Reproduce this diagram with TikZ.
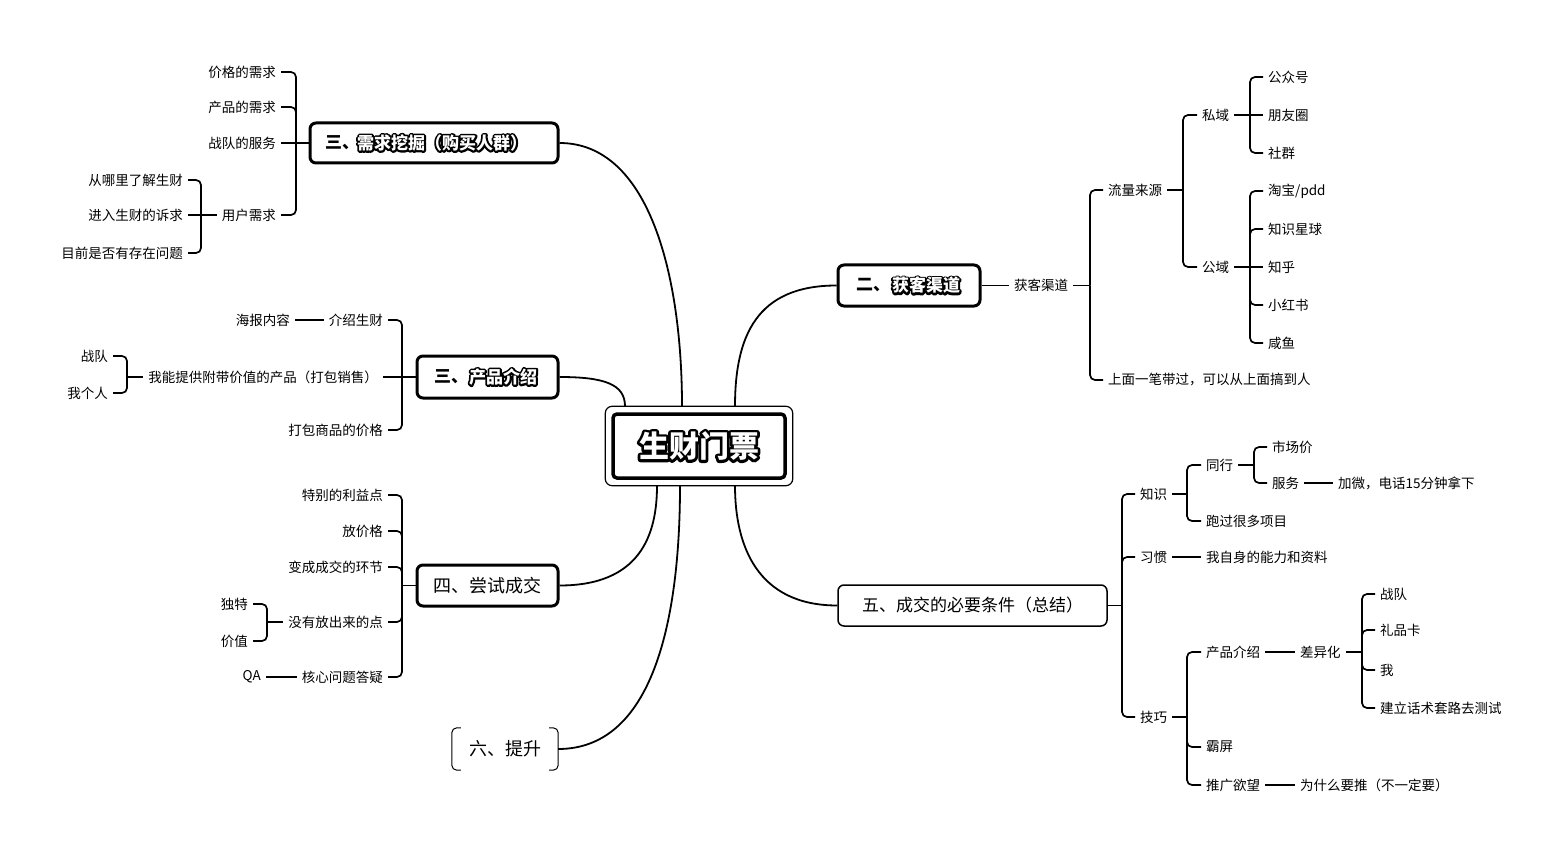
\documentclass[tikz,border=0pt]{standalone}
\usepackage{fontspec}
\setmainfont{Noto Sans CJK SC}
% white text with a black outline: a stroked black copy under a white copy
\newcommand\olt[4]{%
  \node[#1,text=black] at (#2) {\special{pdf:literal direct 2 Tr #4 w 1 j 1 J}#3\special{pdf:literal direct 0 Tr 0 j 0 J}};
  \node[#1,text=white] at (#2) {#3};}
\begin{document}
\begin{tikzpicture}[x=1pt,y=-1pt,
  leaf/.style={font=\fontsize{13.5}{16}\selectfont, inner xsep=5pt, inner ysep=2pt},
  lft/.style={leaf, anchor=east},
  rgt/.style={leaf, anchor=west},
  br/.style={line width=1.7pt, rounded corners=5pt},
  tie/.style={line width=1.3pt},
  crv/.style={line width=1.8pt},
  hbox/.style={draw, line width=3pt, rounded corners=6pt},
  htxt/.style={font=\bfseries\fontsize{17}{20}\selectfont, inner sep=0pt, anchor=west},
  ]
\useasboundingbox (0,0) rectangle (1568,850);
\fill[white] (0,0) rectangle (1568,850);

% ---------- centre ----------
\node[draw, line width=3.5pt, rounded corners=4pt, minimum width=172, minimum height=64] (c) at (699,446) {};
\draw[line width=1.2pt, rounded corners=7pt] ([shift={(-6,-6)}]c.north west) rectangle ([shift={(6,6)}]c.south east);
\coordinate (ctxt) at (699,446);
\olt{font=\bfseries\fontsize{30}{34}\selectfont, inner sep=0pt}{ctxt}{生财门票}{5.4}
\coordinate (ct0) at ([shift={(-74,-6)}]c.north);
\coordinate (ct1) at ([shift={(-17,-6)}]c.north);
\coordinate (ct2) at ([shift={(36,-6)}]c.north);
\coordinate (cb0) at ([shift={(-42,6)}]c.south);
\coordinate (cb1) at ([shift={(-19,6)}]c.south);
\coordinate (cb2) at ([shift={(36,6)}]c.south);

% ---------- main nodes ----------
\node[hbox, minimum width=248, minimum height=40] (h1) at (434,143) {};
\node[htxt] (h1p) at (325,143) {三、};
\coordinate (h1t) at (357,143);
\olt{htxt}{h1t}{需求挖掘（购买人群）}{3.8}

\node[hbox, minimum width=141, minimum height=42] (h3) at (487.5,377) {};
\node[htxt] (h3p) at (434,377) {三、};
\coordinate (h3t) at (469,377);
\olt{htxt}{h3t}{产品介绍}{3.8}

\node[hbox, minimum width=142, minimum height=41] (h2) at (909,285.5) {};
\node[htxt] (h2p) at (856,285.5) {二、};
\coordinate (h2t) at (892,285.5);
\olt{htxt}{h2t}{获客渠道}{3.8}

\node[hbox, minimum width=141, minimum height=41, font=\fontsize{18}{22}\selectfont] (h4) at (487.5,585.5) {四、尝试成交};

\node[font=\fontsize{18}{22}\selectfont, minimum width=106, minimum height=42] (six) at (505,749) {六、提升};
\draw[line width=1pt, rounded corners=5pt] ([xshift=9]six.north west) -- (six.north west) -- (six.south west) -- ([xshift=9]six.south west);
\draw[line width=1pt, rounded corners=5pt] ([xshift=-9]six.north east) -- (six.north east) -- (six.south east) -- ([xshift=-9]six.south east);

\node[draw, line width=1.5pt, rounded corners=6pt, minimum width=269, minimum height=41, font=\fontsize{17}{21}\selectfont] (h5) at (972.5,605.5) {五、成交的必要条件（总结）};

% ---------- curves ----------
\draw[crv] (h1.east) .. controls +(90,0) and +(0,-130) .. (ct1);
\draw[crv] (h3.east) .. controls +(45,0) and +(0,-22) .. (ct0);
\draw[crv] (h2.west) .. controls +(-80,0) and +(0,-70) .. (ct2);
\draw[crv] (h4.east) .. controls +(80,0) and +(0,50) .. (cb0);
\draw[crv] (six.east) .. controls +(100,0) and +(0,120) .. (cb1);
\draw[crv] (h5.west) .. controls +(-80,0) and +(0,60) .. (cb2);

% ---------- 需求挖掘 ----------
\node[lft] (a1) at (281,72) {价格的需求};
\node[lft] (a2) at (281,107) {产品的需求};
\node[lft] (a3) at (281,143) {战队的服务};
\node[lft] (a4) at (281,215) {用户需求};
\draw[br] (h1.west) -- (a3.east);
\draw[br] (296,143) |- (a1.east);
\draw[br] (296,143) |- (a2.east);
\draw[br] (296,143) |- (a4.east);
\node[lft] (b1) at (188,180) {从哪里了解生财};
\node[lft] (b2) at (188,215) {进入生财的诉求};
\node[lft] (b3) at (188,253) {目前是否有存在问题};
\draw[br] (a4.west) -- (b2.east);
\draw[br] (201,215) |- (b1.east);
\draw[br] (201,215) |- (b3.east);

% ---------- 产品介绍 ----------
\node[lft] (d1) at (388,320) {介绍生财};
\node[lft] (d2) at (383,377) {我能提供附带价值的产品（打包销售）};
\node[lft] (d3) at (388,430) {打包商品的价格};
\draw[br] (h3.west) -- (d2.east);
\draw[br] (402,377) |- (d1.east);
\draw[br] (402,377) |- (d3.east);
\node[lft] (d0) at (295,320) {海报内容};
\draw[tie] (d0.east) -- (d1.west);
\node[lft] (e1) at (113,356) {战队};
\node[lft] (e2) at (113,393) {我个人};
\draw[br] (d2.west) -- (127,377);
\draw[br] (127,377) |- (e1.east);
\draw[br] (127,377) |- (e2.east);

% ---------- 四、尝试成交 ----------
\node[lft] (f1) at (388,495) {特别的利益点};
\node[lft] (f2) at (388,531) {放价格};
\node[lft] (f3) at (388,567) {变成成交的环节};
\node[lft] (f4) at (388,622) {没有放出来的点};
\node[lft] (f5) at (388,677) {核心问题答疑};
\draw[br] (h4.west) -- (402,585.5);
\foreach \n in {f1,f2,f3,f4,f5} \draw[br] (402,585.5) |- (\n.east);
\node[lft] (g1) at (253,604) {独特};
\node[lft] (g2) at (253,641) {价值};
\draw[br] (f4.west) -- (267,622);
\draw[br] (267,622) |- (g1.east);
\draw[br] (267,622) |- (g2.east);
\node[lft] (qa) at (266,677) {QA};
\draw[tie] (qa.east) -- (f5.west);

% ---------- 获客渠道 ----------
\node[rgt] (k0) at (1009,285.5) {获客渠道};
\draw[tie] (h2.east) -- (k0.west);
\node[rgt] (k1) at (1103,190) {流量来源};
\node[rgt] (k2) at (1103,380) {上面一笔带过，可以从上面搞到人};
\draw[br] (k0.east) -- (1090,285.5);
\draw[br] (1090,285.5) |- (k1.west);
\draw[br] (1090,285.5) |- (k2.west);
\node[rgt] (p1) at (1197,115) {私域};
\node[rgt] (p2) at (1197,267) {公域};
\draw[br] (k1.east) -- (1183,190);
\draw[br] (1183,190) |- (p1.west);
\draw[br] (1183,190) |- (p2.west);
\node[rgt] (q1) at (1263,77) {公众号};
\node[rgt] (q2) at (1263,115) {朋友圈};
\node[rgt] (q3) at (1263,153) {社群};
\draw[br] (p1.east) -- (q2.west);
\draw[br] (1250,115) |- (q1.west);
\draw[br] (1250,115) |- (q3.west);
\node[rgt] (r1) at (1263,191) {淘宝/pdd};
\node[rgt] (r2) at (1263,229) {知识星球};
\node[rgt] (r3) at (1263,267) {知乎};
\node[rgt] (r4) at (1263,305) {小红书};
\node[rgt] (r5) at (1263,343) {咸鱼};
\draw[br] (p2.east) -- (r3.west);
\foreach \n in {r1,r2,r4,r5} \draw[br] (1250,267) |- (\n.west);

% ---------- 五、成交的必要条件 ----------
\node[rgt] (s1) at (1135,494) {知识};
\node[rgt] (s2) at (1135,557) {习惯};
\node[rgt] (s3) at (1135,717) {技巧};
\draw[br] (h5.east) -- (1122,605.5);
\foreach \n in {s1,s2,s3} \draw[br] (1122,605.5) |- (\n.west);
\node[rgt] (t1) at (1201,465) {同行};
\node[rgt] (t2) at (1201,521) {跑过很多项目};
\draw[br] (s1.east) -- (1187,494);
\draw[br] (1187,494) |- (t1.west);
\draw[br] (1187,494) |- (t2.west);
\node[rgt] (u1) at (1267,447) {市场价};
\node[rgt] (u2) at (1267,483) {服务};
\draw[br] (t1.east) -- (1254,465);
\draw[br] (1254,465) |- (u1.west);
\draw[br] (1254,465) |- (u2.west);
\node[rgt] (u3) at (1333,483) {加微，电话15分钟拿下};
\draw[tie] (u2.east) -- (u3.west);
\node[rgt] (v1) at (1201,557) {我自身的能力和资料};
\draw[tie] (s2.east) -- (v1.west);
\node[rgt] (w1) at (1201,652) {产品介绍};
\node[rgt] (w2) at (1201,747) {霸屏};
\node[rgt] (w3) at (1201,785) {推广欲望};
\draw[br] (s3.east) -- (1187,717);
\foreach \n in {w1,w2,w3} \draw[br] (1187,717) |- (\n.west);
\node[rgt] (x0) at (1295,652) {差异化};
\draw[tie] (w1.east) -- (x0.west);
\node[rgt] (x1) at (1375,594) {战队};
\node[rgt] (x2) at (1375,630) {礼品卡};
\node[rgt] (x3) at (1375,670) {我};
\node[rgt] (x4) at (1375,708) {建立话术套路去测试};
\draw[br] (x0.east) -- (1362,652);
\foreach \n in {x1,x2,x3,x4} \draw[br] (1362,652) |- (\n.west);
\node[rgt] (y1) at (1295,785) {为什么要推（不一定要）};
\draw[tie] (w3.east) -- (y1.west);
\end{tikzpicture}
\end{document}
